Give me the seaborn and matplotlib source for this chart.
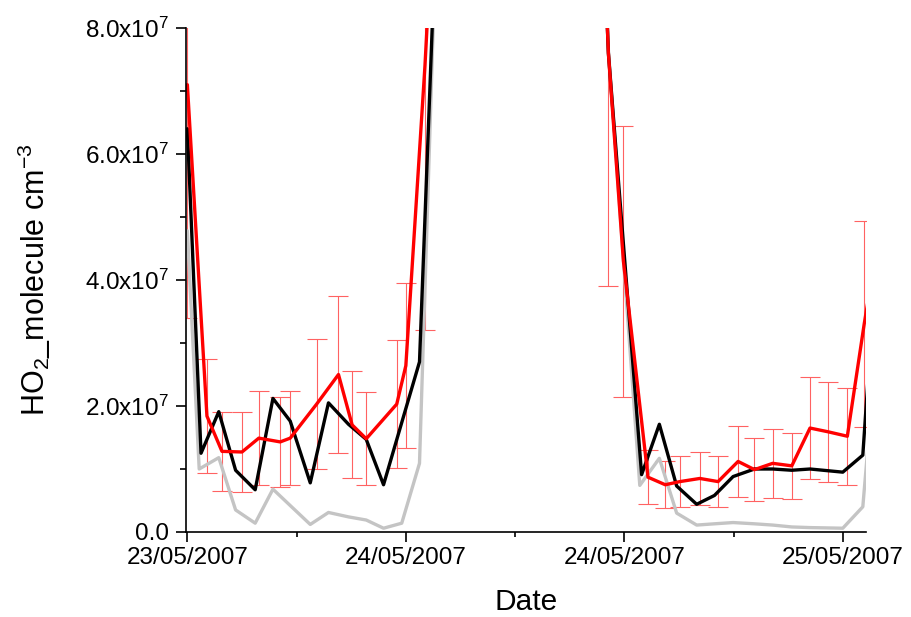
import numpy as np
import pandas as pd
import matplotlib
matplotlib.use("Agg")
import matplotlib.pyplot as plt
import seaborn as sns
from matplotlib.ticker import MultipleLocator, FuncFormatter, FixedLocator

# hours since 23/05/2007 00:00 (night 1) / shifted axis for night 2, values in units of 1e7 molecule cm-3
t_red1 = [0, 2.15, 3.8, 6.0, 7.85, 10.2, 11.3, 14.2, 16.6, 18.1, 19.65, 23.0, 24.0, 26.1, 27.8]
red1 = [7.1, 1.84, 1.28, 1.27, 1.49, 1.43, 1.49, 2.03, 2.50, 1.70, 1.48, 2.03, 2.64, 7.4, 12.0]
red1_err = [3.7, 0.91, 0.63, 0.63, 0.75, 0.72, 0.75, 1.03, 1.24, 0.85, 0.74, 1.02, 1.31, 4.2, 3.0]

t_red2 = [44.5, 46.25, 47.9, 50.6, 52.5, 54.1, 56.3, 58.3, 60.5, 62.3, 64.3, 66.4, 68.4, 70.4, 72.5, 74.35, 76.3]
red2 = [14.0, 7.6, 4.3, 0.87, 0.75, 0.80, 0.85, 0.80, 1.12, 0.99, 1.09, 1.05, 1.65, 1.59, 1.52, 3.3, 5.0]
red2_err = [3.0, 3.7, 2.15, 0.43, 0.37, 0.40, 0.42, 0.41, 0.56, 0.50, 0.55, 0.52, 0.81, 0.79, 0.77, 1.64, 2.0]

t_blk1 = [0, 1.5, 3.45, 5.3, 7.45, 9.4, 11.3, 13.5, 15.5, 17.7, 19.65, 21.55, 25.5, 27.5]
blk1 = [6.4, 1.25, 1.91, 0.98, 0.67, 2.12, 1.76, 0.78, 2.05, 1.71, 1.47, 0.75, 2.70, 10.3]
t_blk2 = [44.5, 46.25, 49.9, 51.85, 53.75, 55.95, 57.9, 59.95, 62.3, 64.3, 66.4, 68.4, 72.0, 74.2, 76.2]
blk2 = [14.0, 7.6, 0.91, 1.71, 0.73, 0.44, 0.58, 0.88, 1.0, 1.0, 0.98, 1.0, 0.95, 1.22, 5.46]

t_gry1 = [0, 1.3, 3.45, 5.3, 7.45, 9.4, 11.3, 13.5, 15.5, 17.7, 19.65, 21.55, 23.55, 25.5, 27.5]
gry1 = [4.78, 1.0, 1.18, 0.35, 0.14, 0.68, 0.42, 0.12, 0.31, 0.24, 0.19, 0.06, 0.14, 1.09, 10.3]
t_gry2 = [44.5, 46.25, 49.7, 51.85, 53.75, 55.95, 57.9, 59.95, 62.3, 64.3, 66.4, 68.4, 72.0, 74.2, 76.2]
gry2 = [14.0, 7.65, 0.74, 1.17, 0.30, 0.11, 0.13, 0.15, 0.13, 0.11, 0.08, 0.07, 0.06, 0.40, 3.8]

tick_pos = [0, 24, 48, 72]
tick_lab = ["23/05/2007", "24/05/2007", "24/05/2007", "25/05/2007"]

scale = 1e7

sns.set_theme(style="ticks", rc={"axes.edgecolor": "black", "xtick.color": "black",
                                 "ytick.color": "black", "text.color": "black",
                                 "axes.labelcolor": "black"})
plt.rcParams['font.family'] = ['Liberation Sans', 'DejaVu Sans']
plt.rcParams['mathtext.fontset'] = 'custom'
plt.rcParams['mathtext.rm'] = 'Liberation Sans'
plt.rcParams['mathtext.it'] = 'Liberation Sans:italic'

frames = []
for name, tt, vv, seg in [("gray", t_gry1, gry1, 1), ("gray", t_gry2, gry2, 2),
                          ("black", t_blk1, blk1, 1), ("black", t_blk2, blk2, 2),
                          ("red", t_red1, red1, 1), ("red", t_red2, red2, 2)]:
    frames.append(pd.DataFrame({"t": tt, "value": np.array(vv) * scale,
                                "series": name, "seg": seg}))
df = pd.concat(frames, ignore_index=True)

fig = plt.figure(figsize=(9.11, 6.17), dpi=100)
ax = fig.add_axes([186/911, 85/617, 680/911, 504/617])

ax.errorbar(t_red1 + t_red2, np.array(red1 + red2) * scale,
            yerr=np.array(red1_err + red2_err) * scale, fmt='none',
            ecolor='#ff6262', elinewidth=0.8, capsize=7, capthick=0.8, zorder=1.5)

sns.lineplot(data=df, x="t", y="value", hue="series", units="seg", estimator=None,
             hue_order=["gray", "black", "red"],
             palette={"gray": "#c4c4c4", "black": "black", "red": "#ff0000"},
             linewidth=2.4, legend=False, ax=ax, sort=False)

ax.set_xlim(-0.15, 74.55)
ax.set_ylim(0, 8e7)
ax.xaxis.set_major_locator(FixedLocator(tick_pos))
ax.set_xticklabels(tick_lab)
ax.xaxis.set_minor_locator(FixedLocator([12, 36, 60]))
ax.yaxis.set_major_locator(MultipleLocator(2e7))
ax.yaxis.set_minor_locator(MultipleLocator(1e7))


def yfmt(v, pos):
    if v == 0:
        return "0.0"
    return r"%.1fx10$^{7}$" % (v / 1e7)


ax.yaxis.set_major_formatter(FuncFormatter(yfmt))

sns.despine(ax=ax)
for s in ["left", "bottom"]:
    ax.spines[s].set_linewidth(1.2)

ax.tick_params(axis='both', which='major', length=7.5, width=1.2, direction='out', labelsize=17.5)
ax.tick_params(axis='x', which='major', pad=3)
ax.tick_params(axis='y', which='major', pad=5)
ax.tick_params(axis='x', which='minor', length=3.5, width=1.2, direction='out')
ax.tick_params(axis='y', which='minor', length=4.5, width=1.2, direction='out')

ax.set_xlabel("Date", fontsize=21.5)
ax.set_ylabel(r"HO$_2$_molecule cm$^{-3}$", fontsize=22)
ax.xaxis.set_label_coords(0.5, -0.112)
ax.yaxis.set_label_coords(-0.196, 0.5)

fig.savefig("out.png", dpi=100)
